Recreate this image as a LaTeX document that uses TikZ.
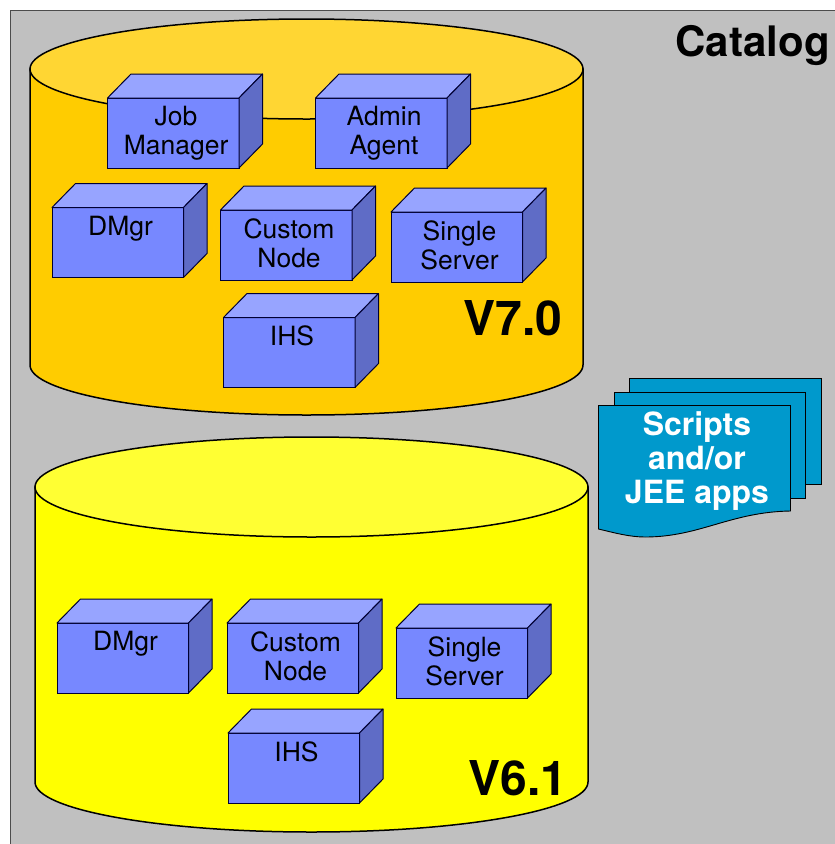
\documentclass[tikz,border=0pt]{standalone}
\usepackage{fontspec}
\setmainfont{TeX Gyre Heros}
\definecolor{panelgray}{HTML}{C0C0C0}
\definecolor{orangebody}{HTML}{FFCC00}
\definecolor{orangetop}{HTML}{FFD633}
\definecolor{yellowbody}{HTML}{FFFF00}
\definecolor{yellowtop}{HTML}{FFFF33}
\definecolor{cubefront}{HTML}{7788FF}
\definecolor{cubetop}{HTML}{97A4FF}
\definecolor{cubeside}{HTML}{5F6CC6}
\definecolor{docblue}{HTML}{0099CC}
% one server box: name, corner, text
\newcommand{\cubebox}[3]{
  \node [front] (#1) at (#2) {};
  \draw [cubeedge,fill=cubetop] (#1.north west) -- ++(23.5,-24) -- ++(131.5,0) -- ++(-23.5,24) -- cycle;
  \draw [cubeedge,fill=cubeside] (#1.north east) -- ++(23.5,-24) -- ++(0,70) -- ++(-23.5,24) -- cycle;
  \node [cubetext] (#1text) at ([xshift=2.8pt,yshift=-8pt]#1.north) {#3};
}
\begin{document}
\begin{tikzpicture}[x=1pt,y=-1pt,
  front/.style={draw=black!80!blue,line width=1pt,fill=cubefront,anchor=north west,inner sep=0pt,minimum width=131.5pt,minimum height=70pt,outer sep=0pt},
  cubeedge/.style={draw=black!80!blue,line width=1pt,line join=round},
  cubetext/.style={anchor=north,align=center,font=\fontsize{26.5}{29}\selectfont,inner sep=0pt},
  version/.style={font=\fontsize{48}{52}\selectfont\bfseries,inner sep=0pt},
  docpage/.style={draw=black,line width=0.9pt,fill=docblue},
  cyl/.style={draw=black,line width=1.5pt}]
  \useasboundingbox (0,0) rectangle (835,844);

  \fill [panelgray] (10,10.5) rectangle (835,844);
  \draw [black!70,line width=0.9pt] (10,844) -- (10,10.5) -- (835,10.5);
  \node [anchor=east,font=\fontsize{42}{46}\selectfont\bfseries,inner sep=0pt] (catalog) at (830,46) {Catalog};

  % V7.0 cylinder
  \draw [cyl,fill=orangebody] (30,69) -- (30,365) arc[start angle=180,end angle=360,x radius=276.5,y radius=-50] -- (583,69) -- cycle;
  \draw [cyl,fill=orangetop] (306.5,69) ellipse[x radius=276.5,y radius=50];
  \cubebox{jobmgr}{107.5,98}{Job\\Manager}
  \cubebox{adminagent}{315.5,98}{Admin\\Agent}
  \cubebox{dmgrA}{52,207.5}{DMgr}
  \cubebox{customA}{220.5,210}{Custom\\Node}
  \cubebox{singleA}{391,212}{Single\\Server}
  \cubebox{ihsA}{223.5,317.5}{IHS}
  \node [version] (vseven) at (513,318) {V7.0};

  % V6.1 cylinder
  \draw [cyl,fill=yellowbody] (35,487) -- (35,782) arc[start angle=180,end angle=360,x radius=276.5,y radius=-50] -- (588,487) -- cycle;
  \draw [cyl,fill=yellowtop] (311.5,487) ellipse[x radius=276.5,y radius=50];
  \cubebox{dmgrB}{57,623}{DMgr}
  \cubebox{customB}{227,623}{Custom\\Node}
  \cubebox{singleB}{396,628}{Single\\Server}
  \cubebox{ihsB}{228,733}{IHS}
  \node [version] (vsix) at (518,778) {V6.1};

  % stacked documents
  \draw [docpage] (629.5,378) rectangle (821.5,484);
  \draw [docpage] (614,392) rectangle (805.5,498);
  \draw [docpage] (598.5,405.5) -- (790.5,405.5) -- (790.5,511) .. controls (730,512) and (700,537) .. (645,537) .. controls (630,537) and (615,533) .. (598.5,529) -- cycle;
  \node [align=center,text=white,font=\fontsize{32}{34}\selectfont\bfseries,inner sep=0pt] (scripts) at (697,461) {Scripts\\and/or\\JEE apps};
\end{tikzpicture}
\end{document}
